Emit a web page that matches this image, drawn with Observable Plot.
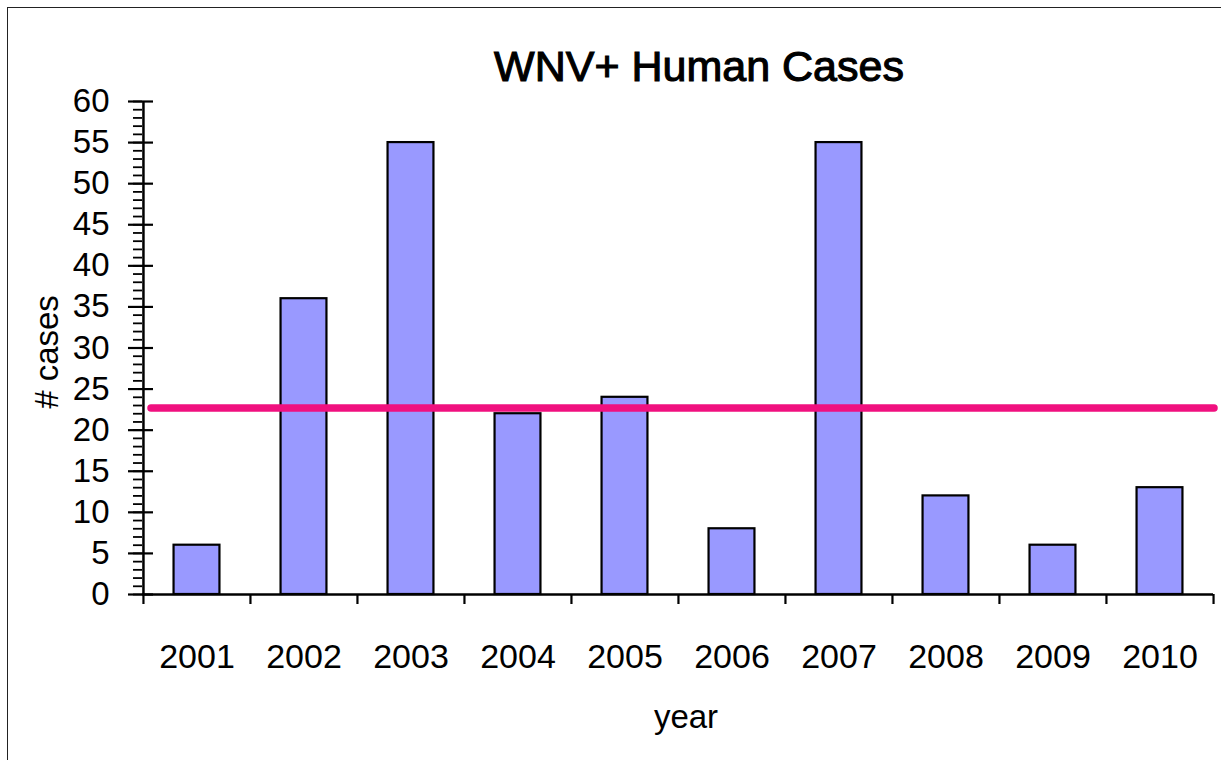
<!DOCTYPE html>
<html>
<head>
<meta charset="utf-8">
<script src="https://cdn.jsdelivr.net/npm/d3@7"></script>
<script src="https://cdn.jsdelivr.net/npm/@observablehq/plot@0.6"></script>
<style>
  html, body { margin: 0; padding: 0; background: #fff; overflow: hidden; }
  #wrap { position: relative; width: 1221px; height: 760px; font-family: "Liberation Sans", Arial, sans-serif; color: #000; }
  #border { position: absolute; left: 7px; top: 7px; width: 1400px; height: 1000px; border: 1.5px solid #222; box-sizing: border-box; }
  #chart { position: absolute; left: 0; top: 0; }
  .title { position: absolute; left: -1px; width: 1400px; top: 45px; text-align: center; font-size: 43px; font-weight: normal; -webkit-text-stroke: 1.1px #000; line-height: 1; }
  .ylabel { position: absolute; left: 46px; top: 352px; font-size: 33px; white-space: nowrap; transform: translate(-50%, -50%) rotate(-90deg); line-height: 1; }
  .xlabel { position: absolute; left: 686px; top: 700px; font-size: 33px; transform: translateX(-50%); line-height: 1; }
</style>
</head>
<body>
<div id="wrap">
  <div id="border"></div>
  <div id="chart"></div>
  <div class="title" id="title"></div>
  <div class="ylabel" id="ylabel"></div>
  <div class="xlabel" id="xlabel"></div>
</div>
<script>
const titleText = "WNV+ Human Cases";
const yLabelText = "# cases";
const xLabelText = "year";
const years = ["2001", "2002", "2003", "2004", "2005", "2006", "2007", "2008", "2009", "2010"];
const cases = [6, 36, 55, 22, 24, 8, 55, 12, 6, 13];
const averageLine = [22.7];
const yTicks = [0, 5, 10, 15, 20, 25, 30, 35, 40, 45, 50, 55, 60];
const yMinorTicks = d3.range(0, 61, 1);

document.getElementById("title").textContent = titleText;
document.getElementById("ylabel").textContent = yLabelText;
document.getElementById("xlabel").textContent = xLabelText;

const data = years.map((y, i) => ({year: y, cases: cases[i]}));

const W = 1221, H = 760;
const mL = 142, mR = 8, mT = 101, mB = 166;
const step = (W - mL - mR) / years.length;
const barW = 46;
const inset = (step - barW) / 2;
const noLabel = () => "";

const plot = Plot.plot({
  width: W,
  height: H,
  marginLeft: mL,
  marginRight: mR,
  marginTop: mT,
  marginBottom: mB,
  style: { fontFamily: "Liberation Sans, Arial, sans-serif", background: "transparent", color: "#000" },
  x: { domain: years, padding: 0, axis: null },
  y: { domain: [0, 60], axis: null },
  marks: [
    Plot.barY(data, { x: "year", y: "cases", fill: "#9999ff", stroke: "#000", strokeWidth: 2.2, insetLeft: inset, insetRight: inset }),
    Plot.ruleY(averageLine, { stroke: "#f0107f", strokeWidth: 7.5, strokeLinecap: "round", insetLeft: 9, insetRight: -1 }),
    Plot.ruleY([0], { stroke: "#000", strokeWidth: 2.5 }),
    Plot.ruleX([years[0]], { stroke: "#000", strokeWidth: 2.5, dx: -step / 2 }),
    Plot.axisY({ ticks: yMinorTicks, tickSize: 9, tickFormat: noLabel, label: null, strokeWidth: 1.8 }),
    Plot.axisY({ ticks: yTicks, tickSize: 14, tickPadding: 19, fontSize: 33, tickFormat: d => String(d), label: null, strokeWidth: 2.2 }),
    Plot.axisY({ ticks: yTicks, tickSize: 11, dx: 11, tickFormat: noLabel, label: null, strokeWidth: 2.2 }),
    Plot.axisX({ tickSize: 0, tickPadding: 49, fontSize: 34, label: null }),
    Plot.axisX({ tickSize: 10, dx: -step / 2, tickFormat: noLabel, label: null, strokeWidth: 2.2 }),
    Plot.axisX({ ticks: [years[years.length - 1]], tickSize: 10, dx: step / 2, tickFormat: noLabel, label: null, strokeWidth: 2.2 })
  ]
});
document.getElementById("chart").appendChild(plot);
</script>
</body>
</html>
